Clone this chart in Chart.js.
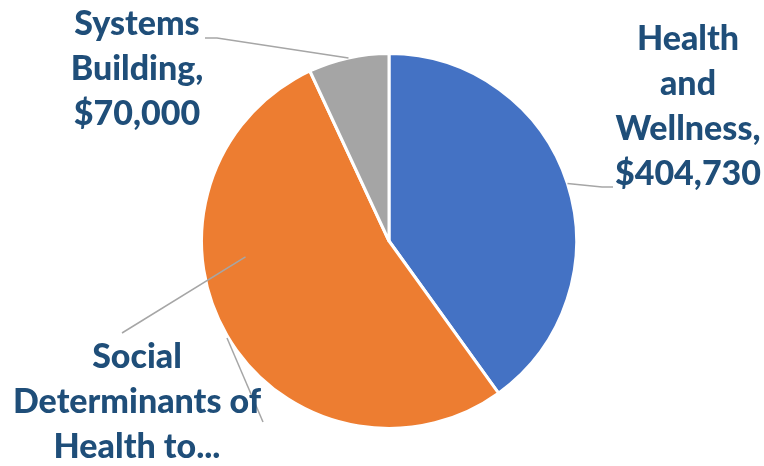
<!DOCTYPE html>
<html>
<head>
<meta charset="utf-8">
<script src="https://cdn.jsdelivr.net/npm/chart.js@4.4.0/dist/chart.umd.min.js"></script>
<style>
  html, body { margin: 0; padding: 0; background: #fff; }
  #wrap { width: 764px; height: 466px; position: relative; }
</style>
</head>
<body>
<div id="wrap"><canvas id="budgetPie"></canvas></div>
<script>
  // slice data
  const categories = ['Health and Wellness', 'Social Determinants of Health to...', 'Systems Building'];
  const amounts = [404730, 535270, 70000];
  const sliceColors = ['#4472C4', '#ED7D31', '#A5A5A5'];
  // data labels as shown (wrapped)
  const labelLines = [
    ['Health', 'and', 'Wellness,', '$404,730'],
    ['Social', 'Determinants of', 'Health to...'],
    ['Systems', 'Building,', '$70,000']
  ];

  // where each label block sits (center x, first baseline) and where its leader ends
  const labelSpots = [
    { x: 688, y: 50, leader: [[602, 187], [613, 187]] },
    { x: 137, y: 368, leader: [[122, 333]], extra: [[227, 338], [263, 422]] },
    { x: 137, y: 35, leader: [[217, 38], [205, 38]] }
  ];

  const pieLabels = {
    id: 'pieLabels',
    afterDatasetsDraw(chart) {
      const ctx = chart.ctx;
      const arcs = chart.getDatasetMeta(0).data;
      ctx.save();
      ctx.strokeStyle = '#A6A6A6';
      ctx.lineWidth = 1.5;
      arcs.forEach((arc, i) => {
        const spot = labelSpots[i];
        const mid = (arc.startAngle + arc.endAngle) / 2;
        // orange label's leader starts inside the slice in the original
        const r = i === 1 ? arc.outerRadius * 0.77 : arc.outerRadius;
        const a = i === 1 ? mid + 0.42 : mid;
        ctx.beginPath();
        ctx.moveTo(arc.x + Math.cos(a) * r, arc.y + Math.sin(a) * r);
        spot.leader.forEach(p => ctx.lineTo(p[0], p[1]));
        ctx.stroke();
        if (spot.extra) {
          ctx.beginPath();
          ctx.moveTo(spot.extra[0][0], spot.extra[0][1]);
          ctx.lineTo(spot.extra[1][0], spot.extra[1][1]);
          ctx.stroke();
        }
      });
      ctx.fillStyle = '#1F4E79';
      ctx.font = '900 34px Lato';
      ctx.textAlign = 'center';
      ctx.textBaseline = 'alphabetic';
      labelLines.forEach((lines, i) => {
        const spot = labelSpots[i];
        lines.forEach((t, k) => ctx.fillText(t, spot.x, spot.y + k * 45));
      });
      ctx.restore();
    }
  };

  new Chart(document.getElementById('budgetPie'), {
    type: 'pie',
    data: {
      labels: categories,
      datasets: [{
        data: amounts,
        backgroundColor: sliceColors,
        borderColor: '#ffffff',
        borderWidth: 3
      }]
    },
    options: {
      responsive: true,
      maintainAspectRatio: false,
      animation: false,
      layout: { padding: { left: 200, right: 186, top: 52, bottom: 36 } },
      plugins: {
        legend: { display: false },
        tooltip: { enabled: false }
      }
    },
    plugins: [pieLabels]
  });
</script>
</body>
</html>
